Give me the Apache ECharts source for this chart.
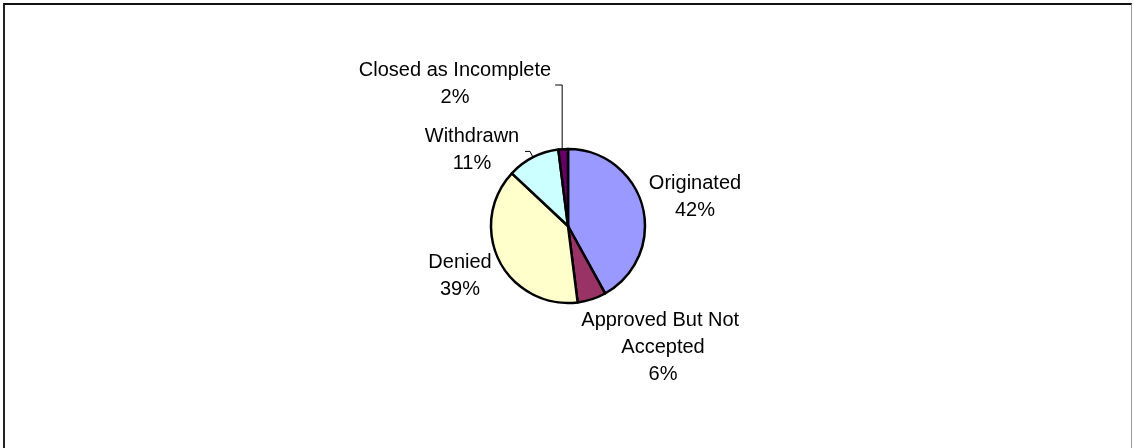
<!DOCTYPE html>
<html>
<head>
<meta charset="utf-8">
<script src="https://cdn.jsdelivr.net/npm/echarts@6/dist/echarts.min.js"></script>
<style>
  html, body { margin: 0; padding: 0; background: #fff; }
  #frame {
    position: absolute; left: 3px; top: 3px; width: 1129px; height: 460px;
    border-top: 2px solid #111; border-left: 2px solid #222;
    border-right: 1px solid #999; box-sizing: border-box;
  }
  #chart { position: absolute; left: 0; top: 0; width: 1133px; height: 448px; }
</style>
</head>
<body>
<div id="frame"></div>
<div id="chart"></div>
<script>
// Loan application outcomes, share of total (%)
const categories = ['Originated', 'Approved But Not Accepted', 'Denied', 'Withdrawn', 'Closed as Incomplete'];
const shares = [42, 6, 39, 11, 2];
const colors = ['#9999FF', '#993366', '#FFFFCC', '#CCFFFF', '#660066'];

// Label block centres (x, middle y) and which slices get a leader line
const labelSpots = [[695, 197], [663, 347], [460, 276], [472, 150], [455, 84]];
const withLine = [false, false, false, true, true];

const chart = echarts.init(document.getElementById('chart'), null, { renderer: 'canvas' });

const data = categories.map((name, i) => ({
  name: name,
  value: shares[i],
  itemStyle: { color: colors[i] },
  label: name === 'Approved But Not Accepted' ? { width: 172, overflow: 'break' } : {},
  labelLine: { show: withLine[i] }
}));

chart.setOption({
  animation: false,
  series: [{
    type: 'pie',
    center: [568, 226],
    radius: 77,
    startAngle: 90,
    clockwise: true,
    avoidLabelOverlap: false,
    itemStyle: { borderColor: '#000', borderWidth: 2.5 },
    label: {
      show: true,
      position: 'outside',
      formatter: '{b}\n{d}%',
      color: '#000',
      fontFamily: '"Liberation Sans", Arial, sans-serif',
      fontSize: 20,
      lineHeight: 27
    },
    labelLine: {
      length: 10,
      length2: 6,
      lineStyle: { color: '#000', width: 1 }
    },
    emphasis: { disabled: true },
    labelLayout: function (params) {
      const i = params.dataIndex;
      const spot = labelSpots[i];
      const out = { x: spot[0], y: spot[1], align: 'center', verticalAlign: 'middle' };
      const p0 = params.labelLinePoints ? params.labelLinePoints[0] : null;
      if (withLine[i] && p0) {
        if (categories[i] === 'Closed as Incomplete') {
          const right = spot[0] + params.labelRect.width / 2;
          out.labelLinePoints = [[p0[0] - 1, p0[1]], [p0[0] - 1, spot[1] + 1], [right + 4, spot[1] + 1]];
        } else {
          out.labelLinePoints = [[p0[0], p0[1]], [p0[0] - 3, p0[1] - 6], [p0[0] - 8, p0[1] - 6]];
        }
      }
      return out;
    },
    data: data
  }]
});
</script>
</body>
</html>
